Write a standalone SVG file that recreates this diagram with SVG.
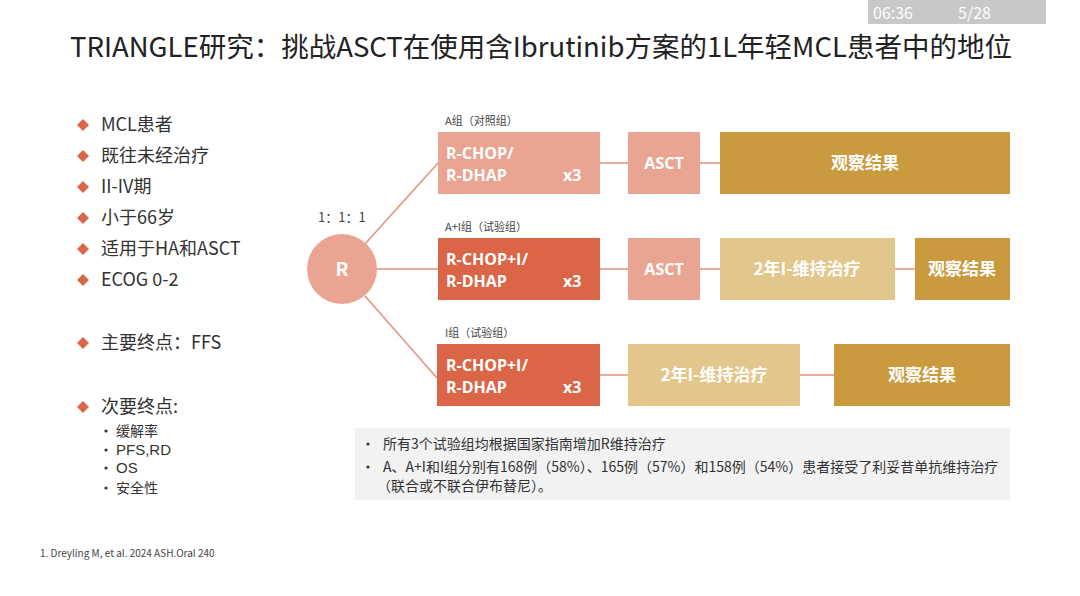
<svg xmlns="http://www.w3.org/2000/svg" width="1080" height="596" viewBox="0 0 1080 596">
<style>
text{font-family:"Noto Sans CJK SC","Noto Sans",sans-serif;}
.title{font-size:27.5px;fill:#222;}
.li{font-size:18px;fill:#333;}
.sub{font-size:14px;fill:#333;}
.subl{font-family:"Liberation Sans",Arial,sans-serif;font-size:15px;fill:#333;}
.grp{font-size:11px;fill:#444;}
.bx{font-size:17px;fill:#fff;font-weight:bold;}
.bl{font-family:"Open Sans","Noto Sans",sans-serif;font-size:16px;fill:#fff;font-weight:bold;}
.note{font-size:14px;fill:#333;}
.dm{fill:#d9684a;}
.c{stroke:#e3907c;stroke-width:1.5;fill:none;}
.lt{fill:#e9a592;}
.dk{fill:#db6647;}
.gd{fill:#c99a3e;}
.tn{fill:#e3c68c;}
</style>
<rect width="1080" height="596" fill="#ffffff"/>
<rect x="868" y="0" width="178" height="24" fill="#c8c8c8"/>
<text x="873" y="19" font-size="16" fill="#ffffff">06:36</text>
<text x="958" y="19" font-size="16" fill="#ffffff">5/28</text>
<text class="title" x="70" y="57">TRIANGLE研究：挑战ASCT在使用含Ibrutinib方案的1L年轻MCL患者中的地位</text>

<g id="criteria">
<path class="dm" d="M83 119l6 6-6 6-6-6z"/><text class="li" x="101" y="131">MCL患者</text>
<path class="dm" d="M83 150l6 6-6 6-6-6z"/><text class="li" x="101" y="162">既往未经治疗</text>
<path class="dm" d="M83 181l6 6-6 6-6-6z"/><text class="li" x="101" y="193">II-IV期</text>
<path class="dm" d="M83 212l6 6-6 6-6-6z"/><text class="li" x="101" y="224">小于66岁</text>
<path class="dm" d="M83 243l6 6-6 6-6-6z"/><text class="li" x="101" y="255">适用于HA和ASCT</text>
<path class="dm" d="M83 274l6 6-6 6-6-6z"/><text class="li" x="101" y="286">ECOG 0-2</text>
<path class="dm" d="M83 337l6 6-6 6-6-6z"/><text class="li" x="101" y="349">主要终点：FFS</text>
<path class="dm" d="M83 401l6 6-6 6-6-6z"/><text class="li" x="101" y="413">次要终点:</text>
<circle cx="106" cy="431" r="1.6" fill="#333"/><text class="sub" x="116" y="436">缓解率</text>
<circle cx="106" cy="450" r="1.6" fill="#333"/><text class="subl" x="116" y="455">PFS,RD</text>
<circle cx="106" cy="468" r="1.6" fill="#333"/><text class="subl" x="116" y="473">OS</text>
<circle cx="106" cy="488" r="1.6" fill="#333"/><text class="sub" x="116" y="493">安全性</text>
</g>

<g id="connectors">
<line class="c" x1="365" y1="244" x2="438" y2="163"/>
<line class="c" x1="377" y1="269" x2="438" y2="269"/>
<line class="c" x1="365" y1="296" x2="437" y2="378"/>
<line class="c" x1="600" y1="163" x2="628" y2="163"/>
<line class="c" x1="700" y1="163" x2="720" y2="163"/>
<line class="c" x1="600" y1="269" x2="628" y2="269"/>
<line class="c" x1="700" y1="269" x2="720" y2="269"/>
<line class="c" x1="895" y1="269" x2="915" y2="269"/>
<line class="c" x1="600" y1="375" x2="628" y2="375"/>
<line class="c" x1="800" y1="375" x2="834" y2="375"/>
</g>

<text x="318" y="222" font-size="13" fill="#444">1：1：1</text>
<g id="R">
<circle cx="342" cy="269" r="35" fill="#e9a592"/>
<text x="342" y="276" font-size="19" fill="#fff" font-weight="bold" text-anchor="middle">R</text>
</g>

<text class="grp" x="445" y="125">A组（对照组）</text>
<text class="grp" x="445" y="231">A+I组（试验组）</text>
<text class="grp" x="445" y="337">I组（试验组）</text>

<g id="a-chemo">
<rect class="lt" x="438" y="132" width="162" height="62"/>
<text class="bl" x="446" y="159">R-CHOP/</text>
<text class="bl" x="446" y="181">R-DHAP</text>
<text class="bl" x="563" y="181">x3</text>
</g>
<g id="a-asct">
<rect class="lt" x="628" y="132" width="72" height="62"/>
<text class="bl" x="664" y="169" text-anchor="middle">ASCT</text>
</g>
<g id="a-obs">
<rect class="gd" x="720" y="132" width="290" height="62"/>
<text class="bx" x="865" y="169" text-anchor="middle">观察结果</text>
</g>

<g id="ai-chemo">
<rect class="dk" x="438" y="238" width="162" height="62"/>
<text class="bl" x="446" y="265">R-CHOP+I/</text>
<text class="bl" x="446" y="287">R-DHAP</text>
<text class="bl" x="563" y="287">x3</text>
</g>
<g id="ai-asct">
<rect class="lt" x="628" y="238" width="72" height="62"/>
<text class="bl" x="664" y="275" text-anchor="middle">ASCT</text>
</g>
<g id="ai-maint">
<rect class="tn" x="720" y="238" width="175" height="62"/>
<text class="bx" x="807" y="275" text-anchor="middle">2年I-维持治疗</text>
</g>
<g id="ai-obs">
<rect class="gd" x="915" y="238" width="95" height="62"/>
<text class="bx" x="962" y="275" text-anchor="middle">观察结果</text>
</g>

<g id="i-chemo">
<rect class="dk" x="437" y="344" width="163" height="62"/>
<text class="bl" x="446" y="371">R-CHOP+I/</text>
<text class="bl" x="446" y="393">R-DHAP</text>
<text class="bl" x="563" y="393">x3</text>
</g>
<g id="i-maint">
<rect class="tn" x="628" y="344" width="172" height="62"/>
<text class="bx" x="714" y="381" text-anchor="middle">2年I-维持治疗</text>
</g>
<g id="i-obs">
<rect class="gd" x="834" y="344" width="176" height="62"/>
<text class="bx" x="922" y="381" text-anchor="middle">观察结果</text>
</g>

<g id="notes">
<rect x="355" y="428" width="655" height="72" fill="#f2f2f2"/>
<circle cx="368" cy="444" r="1.6" fill="#333"/>
<text class="note" x="383" y="449">所有3个试验组均根据国家指南增加R维持治疗</text>
<circle cx="368" cy="467" r="1.6" fill="#333"/>
<text class="note" x="383" y="472">A、A+I和I组分别有168例（58%）、165例（57%）和158例（54%）患者接受了利妥昔单抗维持治疗</text>
<text class="note" x="377" y="491">（联合或不联合伊布替尼）。</text>
</g>

<text x="40" y="557" font-size="10" fill="#444">1.  Dreyling M, et al. 2024 ASH.Oral 240</text>
</svg>
